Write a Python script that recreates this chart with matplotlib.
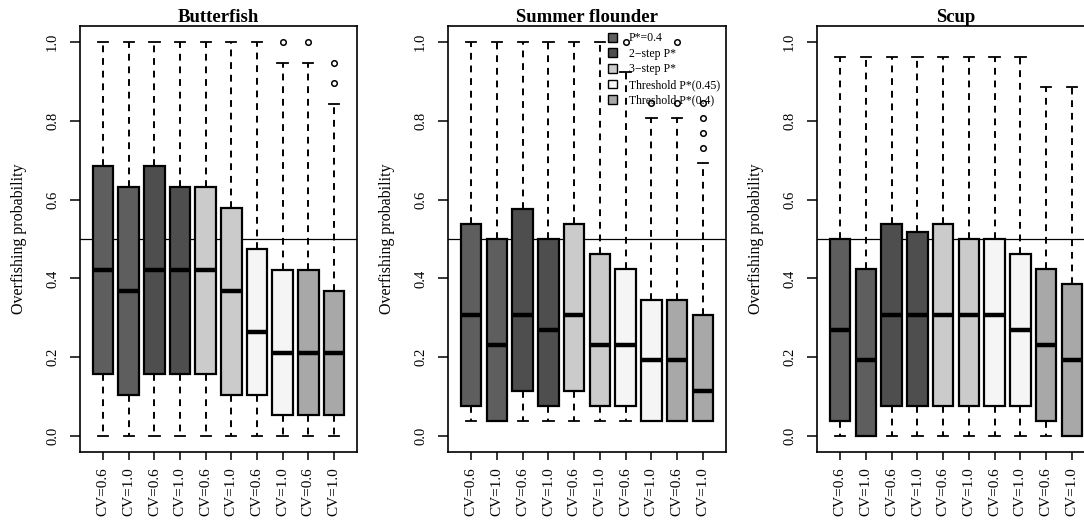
#!/usr/bin/env python3
"""
Overfishing probability boxplots for three stocks under five P* control rules
"""

import matplotlib.pyplot as plt
from matplotlib.patches import Patch

plt.rcParams['font.family'] = ['Liberation Serif', 'DejaVu Serif']

# Data
species = ['Butterfish', 'Summer flounder', 'Scup']
cv_labels = ['CV=0.6', 'CV=1.0', 'CV=0.6', 'CV=1.0', 'CV=0.6',
             'CV=1.0', 'CV=0.6', 'CV=1.0', 'CV=0.6', 'CV=1.0']
rules = ['P*=0.4', '2\u2212step P*', '3\u2212step P*',
         'Threshold P*(0.45)', 'Threshold P*(0.4)']

# Butterfish
bf_whislo = [0.0, 0.0, 0.0, 0.0, 0.0, 0.0, 0.0, 0.0, 0.0, 0.0]
bf_q1 = [0.158, 0.105, 0.158, 0.158, 0.158, 0.105, 0.105, 0.053, 0.053, 0.053]
bf_med = [0.421, 0.368, 0.421, 0.421, 0.421, 0.368, 0.263, 0.211, 0.211, 0.211]
bf_q3 = [0.684, 0.632, 0.684, 0.632, 0.632, 0.579, 0.474, 0.421, 0.421, 0.368]
bf_whishi = [1.0, 1.0, 1.0, 1.0, 1.0, 1.0, 1.0, 0.947, 0.947, 0.842]
bf_fliers = [[], [], [], [], [], [], [], [1.0], [1.0], [0.895, 0.947]]

# Summer flounder
sf_whislo = [0.038, 0.038, 0.038, 0.038, 0.038, 0.038, 0.038, 0.038, 0.038, 0.038]
sf_q1 = [0.077, 0.038, 0.115, 0.077, 0.115, 0.077, 0.077, 0.038, 0.038, 0.038]
sf_med = [0.308, 0.231, 0.308, 0.269, 0.308, 0.231, 0.231, 0.192, 0.192, 0.115]
sf_q3 = [0.538, 0.500, 0.577, 0.500, 0.538, 0.462, 0.423, 0.346, 0.346, 0.308]
sf_whishi = [1.0, 1.0, 1.0, 1.0, 1.0, 1.0, 0.923, 0.808, 0.808, 0.692]
sf_fliers = [[], [], [], [], [], [], [1.0], [0.846], [0.846, 1.0],
             [0.731, 0.769, 0.808, 0.846]]

# Scup
sc_whislo = [0.0, 0.0, 0.0, 0.0, 0.0, 0.0, 0.0, 0.0, 0.0, 0.0]
sc_q1 = [0.038, 0.0, 0.077, 0.077, 0.077, 0.077, 0.077, 0.077, 0.038, 0.0]
sc_med = [0.269, 0.192, 0.308, 0.308, 0.308, 0.308, 0.308, 0.269, 0.231, 0.192]
sc_q3 = [0.500, 0.423, 0.538, 0.519, 0.538, 0.500, 0.500, 0.462, 0.423, 0.385]
sc_whishi = [0.962, 0.962, 0.962, 0.962, 0.962, 0.962, 0.962, 0.962, 0.885, 0.885]
sc_fliers = [[], [], [], [], [], [], [], [], [], []]

panels = [
    (bf_whislo, bf_q1, bf_med, bf_q3, bf_whishi, bf_fliers),
    (sf_whislo, sf_q1, sf_med, sf_q3, sf_whishi, sf_fliers),
    (sc_whislo, sc_q1, sc_med, sc_q3, sc_whishi, sc_fliers),
]

# One grey per rule, two boxes (CV=0.6, CV=1.0) per rule
rule_colors = ['#5e5e5e', '#4e4e4e', '#cbcbcb', '#f5f5f5', '#a8a8a8']
box_colors = [c for c in rule_colors for _ in range(2)]

W, H = 1084, 525
fig = plt.figure(figsize=(W / 100, H / 100), dpi=100)
fig.patch.set_facecolor('white')

# axes boxes in pixels: left, right, top, bottom
boxes_px = [(80, 357, 26, 452), (448, 726, 26, 452), (817, 1095, 26, 452)]

for k, (name, data, (l, r, t, b)) in enumerate(zip(species, panels, boxes_px)):
    ax = fig.add_axes([l / W, (H - b) / H, (r - l) / W, (b - t) / H])
    whislo, q1, med, q3, whishi, fliers = data
    stats = [dict(whislo=whislo[i], q1=q1[i], med=med[i], q3=q3[i],
                  whishi=whishi[i], fliers=fliers[i])
             for i in range(len(med))]
    bp = ax.bxp(stats, positions=range(1, len(stats) + 1), widths=0.8,
                capwidths=0.4, patch_artist=True, showfliers=True,
                boxprops=dict(edgecolor='black', linewidth=1.6),
                medianprops=dict(color='black', linewidth=3.2),
                whiskerprops=dict(color='black', linewidth=1.4,
                                  linestyle=(0, (3.5, 3))),
                capprops=dict(color='black', linewidth=1.3),
                flierprops=dict(marker='o', markersize=4, markerfacecolor='none',
                                markeredgecolor='black', markeredgewidth=1.1))
    for patch, col in zip(bp['boxes'], box_colors):
        patch.set_facecolor(col)

    ax.axhline(0.5, color='black', linewidth=0.9, zorder=1)

    ax.set_xlim(0.1, 10.9)
    ax.set_ylim(-0.04, 1.04)
    ax.set_yticks([0.0, 0.2, 0.4, 0.6, 0.8, 1.0])
    ax.set_yticklabels([f'{v:.1f}' for v in ax.get_yticks()],
                       rotation=90, va='center', fontsize=10.5)
    ax.set_xticks(range(1, len(cv_labels) + 1))
    ax.set_xticklabels(cv_labels, rotation=90, fontsize=11)
    ax.tick_params(axis='y', length=7, width=1.1, pad=8)
    ax.tick_params(axis='x', length=6, width=1.1, pad=5)
    for sp in ax.spines.values():
        sp.set_linewidth(1.2)

    ax.set_ylabel('Overfishing probability', fontsize=11.5)
    ax.yaxis.set_label_coords(-0.19, 0.5)
    ax.set_title(name, fontsize=13.5, fontweight='bold', pad=1)

    if k == 1:
        handles = [Patch(facecolor=c, edgecolor='black', linewidth=1.0)
                   for c in rule_colors]
        ax.legend(handles, rules, loc='upper left', bbox_to_anchor=(0.575, 0.985),
                  frameon=False, fontsize=8.5, handlelength=0.75, handleheight=0.75,
                  handletextpad=1.0, labelspacing=0.3, borderpad=0,
                  borderaxespad=0)

plt.savefig('out.png', dpi=100, facecolor='white')
plt.close()
